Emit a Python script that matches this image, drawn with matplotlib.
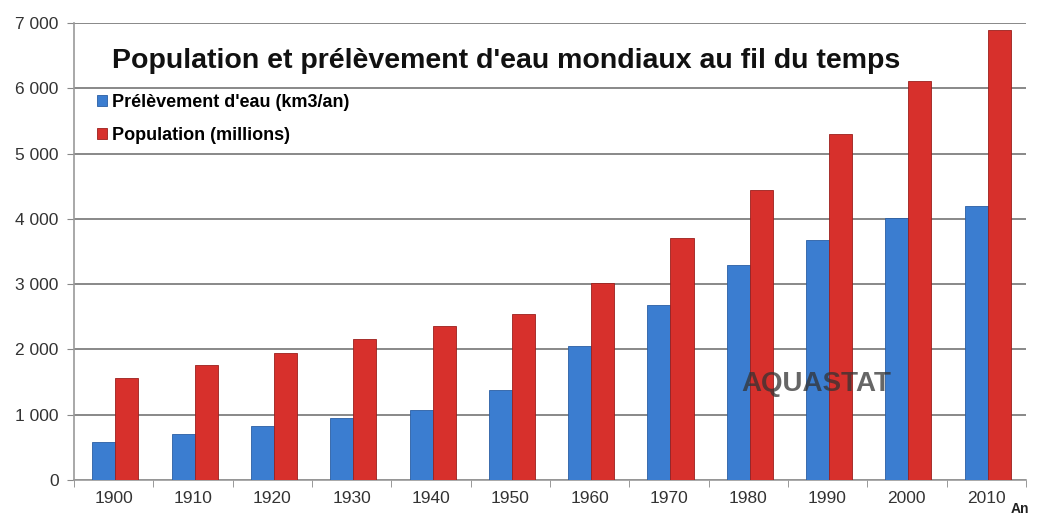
import numpy as np
import matplotlib
matplotlib.use('Agg')
import matplotlib.pyplot as plt
from matplotlib.ticker import FuncFormatter

# Data
annees = ['1900', '1910', '1920', '1930', '1940', '1950',
          '1960', '1970', '1980', '1990', '2000', '2010']
prelevement = [580, 700, 830, 950, 1070, 1380, 2060, 2680, 3290, 3680, 4010, 4200]
population = [1570, 1760, 1950, 2160, 2360, 2550, 3020, 3700, 4440, 5300, 6120, 6900]

plt.rcParams['font.family'] = ['Liberation Sans', 'DejaVu Sans']

fig = plt.figure(figsize=(10.38, 5.18), dpi=100)
ax = fig.add_axes([0.0713, 0.0734, 0.917, 0.882])

x = np.arange(len(annees))
w = 0.29
blue = '#3b7dd0'
red = '#d7302c'

ax.bar(x - w / 2 + 0.02, prelevement, w, color=blue, edgecolor='#2a5ea3',
       linewidth=0.6, zorder=3, label="Prélèvement d'eau (km3/an)")
ax.bar(x + w / 2 + 0.02, population, w, color=red, edgecolor='#9c1f1c',
       linewidth=0.6, zorder=3, label='Population (millions)')

ax.set_xlim(-0.5, len(annees) - 0.5)
ax.set_ylim(0, 7000)
ax.set_yticks(range(0, 7001, 1000))
ax.yaxis.set_major_formatter(FuncFormatter(lambda v, p: '{:,.0f}'.format(v).replace(',', ' ')))
ax.set_xticks(x)
ax.set_xticklabels(annees)
ax.set_xticks(np.arange(-0.5, len(annees)), minor=True)
ax.tick_params(axis='x', which='major', length=0, pad=8, labelsize=12.5, labelcolor='#333333')
ax.tick_params(axis='x', which='minor', length=5, color='#888888', direction='out')
ax.tick_params(axis='y', length=5, color='#888888', labelsize=12.5, labelcolor='#333333', pad=6)

ax.grid(axis='y', color='#888888', linewidth=1.4, zorder=0)
for s in ['top', 'right']:
    ax.spines[s].set_visible(False)
for s in ['left', 'bottom']:
    ax.spines[s].set_color('#999999')
    ax.spines[s].set_linewidth(1.2)

ax.text(0.04, 0.918, "Population et prélèvement d'eau mondiaux au fil du temps",
        transform=ax.transAxes, ha='left', va='center', fontsize=20.5,
        fontweight='bold', color='#111111', zorder=5)

leg = ax.legend(loc='upper left', bbox_to_anchor=(0.011, 0.872), frameon=True,
                facecolor='white', edgecolor='none', framealpha=1,
                handlelength=0.55, handleheight=0.55, handletextpad=0.3,
                labelspacing=0.85, borderpad=0.2,
                prop={'weight': 'bold', 'size': 13})
leg.set_zorder(5)

ax.text(0.78, 0.21, 'AQUASTAT', transform=ax.transAxes, ha='center', va='center',
        fontsize=20, fontweight='bold', color='#333333', alpha=0.75, zorder=6)

fig.text(0.983, 0.003, 'An', ha='center', va='bottom', fontsize=10,
         fontweight='bold', color='#222222')

fig.savefig('out.png', dpi=100)
